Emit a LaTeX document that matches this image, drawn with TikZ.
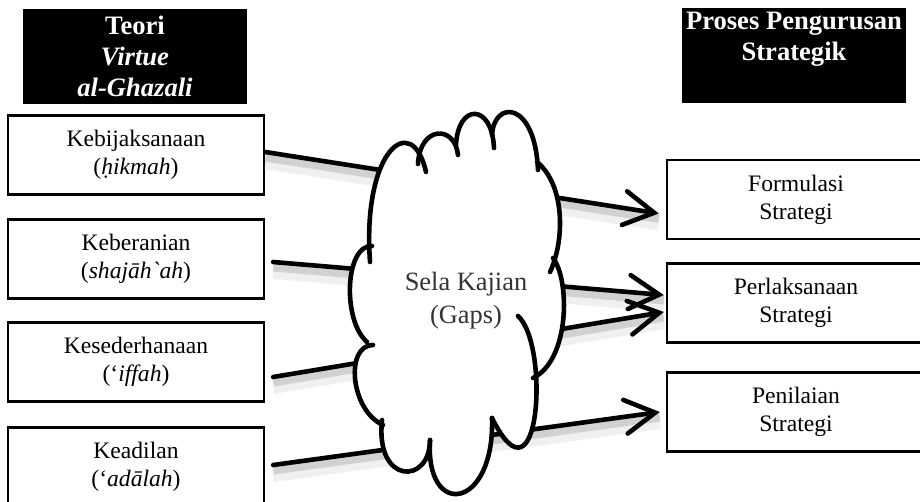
\documentclass[tikz,border=0pt]{standalone}
\usepackage{fontspec}
\setmainfont{Liberation Serif}
\usetikzlibrary{arrows.meta,calc}
\tikzset{
  softshadow/.style={
    preaction={draw=black!30, line width=8pt, opacity=0.2, arrows=-, transform canvas={yshift=-4.5pt}},
    preaction={draw=black!45, line width=4.5pt, opacity=0.3, arrows=-, transform canvas={yshift=-2.5pt}}},
  puff/.style={draw=black, line width=2.3pt, line cap=round}
}
\begin{document}
\begin{tikzpicture}[x=0.5pt, y=-0.5pt, font=\fontsize{11.8}{14}\selectfont]
\useasboundingbox (0,0) rectangle (920,502);
						\begin{scope}[every node/.style={fill=black, text=white, inner sep=0pt, minimum width=112pt, minimum height=47.5pt, align=center, font=\fontsize{13.3}{15.5}\selectfont\bfseries}]
							\node (teori)  at (135,56.5) {Teori\\\textit{Virtue}\\\textit{al-Ghazali}};
							\node (proses) at (794,56)   {Proses Pengurusan\\Strategik\\\strut};
						\end{scope}
						\begin{scope}[every node/.style={draw=black, fill=white, line width=1.2pt, inner sep=0pt, minimum width=128pt, minimum height=39.5pt, align=center}]
							\node (hikmah)  at (136,155) {Kebijaksanaan\\(\textit{ḥikmah})};
							\node (shajaah) at (136,259) {Keberanian\\(\textit{shajāh\textasciigrave ah})};
							\node (iffah)   at (136,362) {Kesederhanaan\\(‘\textit{iffah})};
							\node (adalah)  at (136,467) {Keadilan\\(‘\textit{adālah})};
							\node (formulasi)    at (796,199.5) [minimum width=129pt] {Formulasi\\Strategi};
							\node (perlaksanaan) at (796,303)   [minimum width=129pt] {Perlaksanaan\\Strategi};
							\node (penilaian)    at (796,412)   [minimum width=129pt] {Penilaian\\Strategi};
						\end{scope}
						\begin{scope}[every edge/.style={draw=black, line width=2.3pt, line cap=round, -{Straight Barb[length=15pt, width=17pt, line cap=round]}, softshadow}]
							\path ($(hikmah.east)+(0,-3)$)  edge ($(formulasi.west)+(-7,14)$);
							\path ($(shajaah.east)+(8,3)$)  edge ($(perlaksanaan.west)+(-2,-8)$);
							\path ($(iffah.east)+(8,15)$)   edge ($(perlaksanaan.west)+(-2,9)$);
							\path ($(adalah.east)+(8,-2)$)  edge ($(penilaian.west)+(-6,0)$);
						\end{scope}
						% cloud
						\fill[white] (370,262) .. controls (362,150) and (412,110) .. (426,172)
							-- (418,164) .. controls (420,125) and (455,125) .. (458,155)
							-- (456,145) .. controls (458,103) and (492,103) .. (494,148)
							-- (492,135) .. controls (494,100) and (535,100) .. (538,170)
							-- (537,162) .. controls (565,185) and (565,240) .. (550,272)
							-- (553,258) .. controls (570,280) and (570,360) .. (533,378)
							-- (518,316) .. controls (550,345) and (540,515) .. (492,418)
							.. controls (495,510) and (425,520) .. (430,440)
							.. controls (430,485) and (375,485) .. (382,420)
							-- (383,425) .. controls (350,410) and (345,345) .. (373,345)
							-- (367,342) .. controls (342,320) and (345,245) .. (372,246) -- cycle;
						\begin{scope}[every path/.style={puff}]
							\path (370,262) .. controls (362,150) and (412,110) .. (426,172);
							\path (418,164) .. controls (420,125) and (455,125) .. (458,155);
							\path (456,145) .. controls (458,103) and (492,103) .. (494,148);
							\path (492,135) .. controls (494,100) and (535,100) .. (538,170);
							\path (537,162) .. controls (565,185) and (565,240) .. (550,272);
							\path (553,258) .. controls (570,280) and (570,360) .. (533,378);
							\path (518,316) .. controls (550,345) and (540,515) .. (492,418);
							\path (492,418) .. controls (495,510) and (425,520) .. (430,440);
							\path (430,440) .. controls (430,485) and (375,485) .. (382,420);
							\path (383,425) .. controls (350,410) and (345,345) .. (373,345);
							\path (367,342) .. controls (342,320) and (345,245) .. (372,246);
						\end{scope}
						\node[text=black!80, align=center, font=\fontsize{13.2}{15}\selectfont] (gaps) at (466,301) {Sela Kajian\\[1.5pt](Gaps)};
\end{tikzpicture}
\end{document}
